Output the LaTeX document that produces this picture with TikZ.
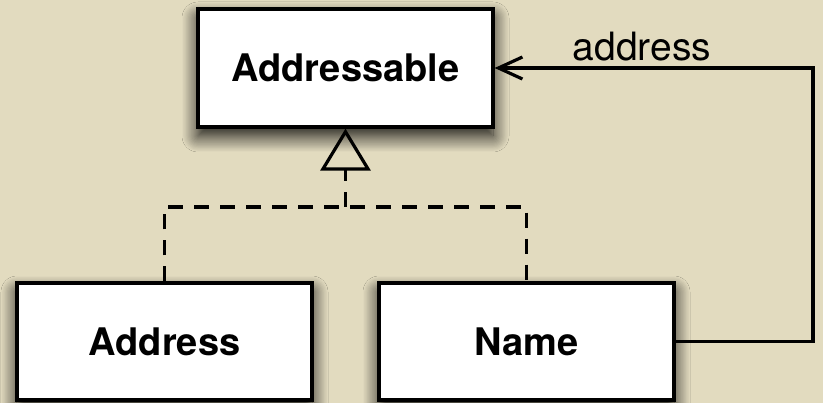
\documentclass[tikz,border=0pt]{standalone}
\usepackage{fontspec}
\setmainfont{TeX Gyre Heros}
\usetikzlibrary{arrows.meta,shadows.blur}

\definecolor{paper}{RGB}{226,219,191}

\tikzset{
  classbox/.style={draw=black, fill=white, line width=3.2pt, inner sep=0pt,
    minimum width=295pt, minimum height=117pt,
    font=\fontsize{38}{40}\selectfont\bfseries,
    blur shadow={shadow xshift=0pt, shadow yshift=-9pt,
      shadow blur radius=16pt, shadow blur steps=14, shadow opacity=95}},
  realize/.style={line width=3.2pt, dash pattern=on 15pt off 11pt},
  assoc/.style={line width=3.2pt,
    -{Straight Barb[length=24pt,width=22pt,line width=3.2pt]}},
  rolelabel/.style={font=\fontsize{39}{40}\selectfont, inner sep=0pt}
}

\begin{document}
\begin{tikzpicture}[x=1pt,y=-1pt]
  % paper background
  \fill[paper] (0,0) rectangle (823,403);
  \useasboundingbox (0,0) rectangle (823,403);

  % classes
  \node[classbox, minimum height=118pt] (addressable) at (345.5,68) {Addressable};
  \node[classbox] (address) at (164.5,341.5) {Address};
  \node[classbox] (name) at (526.5,341.5) {Name};

  % realization tree towards the interface
  \coordinate (bus) at (345.5,207);
  \draw[realize] (address.north) |- (bus) -| (name.north);
  \draw[realize, -{Triangle[open, length=42pt, width=50pt, line width=3.2pt]}]
    (bus) -- (addressable.south);

  % navigable association
  \coordinate (bend) at (813,68);
  \draw[assoc] (name.east) -| (bend) -- (addressable.east);
  \node[rolelabel, anchor=base] (role) at (642,61) {address};
\end{tikzpicture}
\end{document}
